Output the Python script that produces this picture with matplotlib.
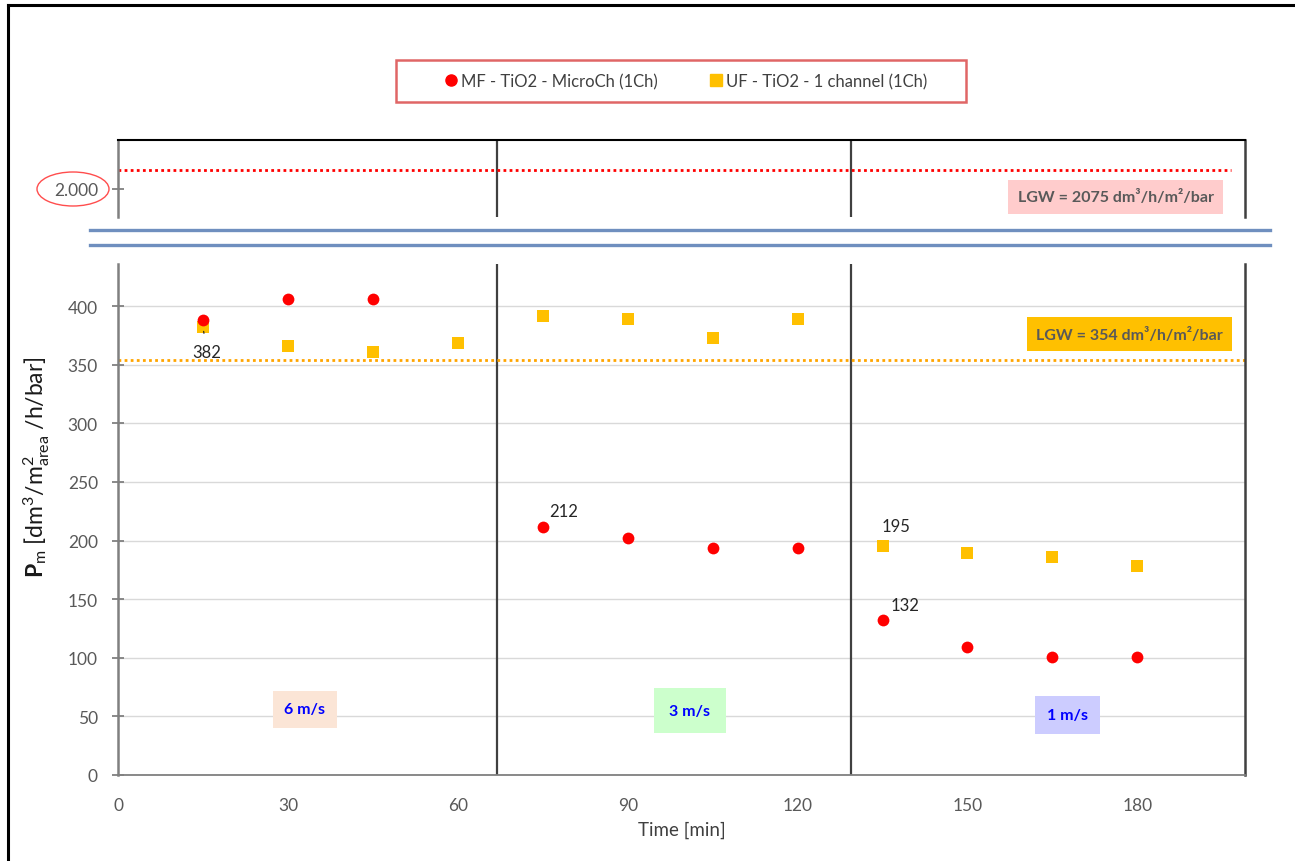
import matplotlib
matplotlib.use("Agg")
import matplotlib.pyplot as plt
from matplotlib.lines import Line2D
from matplotlib.patches import Ellipse, Rectangle

plt.rcParams["font.family"] = ["Lato", "DejaVu Sans"]
plt.rcParams["mathtext.fontset"] = "custom"
plt.rcParams["mathtext.rm"] = "Lato"
plt.rcParams["mathtext.bf"] = "Lato:bold"
plt.rcParams["mathtext.it"] = "Lato:italic"

# permeability Pm [dm3/m2/h/bar] vs time [min]
time_mf = [15, 30, 45, 75, 90, 105, 120, 135, 150, 165, 180]
pm_mf = [388, 406, 406, 212, 202, 194, 194, 132, 109, 101, 101]
time_uf = [15, 30, 45, 60, 75, 90, 105, 120, 135, 150, 165, 180]
pm_uf = [382, 366, 361, 369, 392, 389, 373, 389, 195, 189, 186, 178]

label_mf = "MF - TiO2 - MicroCh (1Ch)"
label_uf = "UF - TiO2 - 1 channel (1Ch)"

# clean water permeability (LGW) of each membrane
lgw_mf = 2075
lgw_uf = 354

# end of each cross-flow velocity phase [min]
phase_ends = [67, 129.5]
speeds = ["6 m/s", "3 m/s", "1 m/s"]
speed_x = [33, 101, 167.6]
speed_y = [56, 55, 51]
speed_colors = ["#fbe5d6", "#ccffcc", "#ccccff"]
speed_pads = [0.7, 0.95, 0.75]

# points with a value label: (index, text offset in points)
mf_labels = [(3, (15, 11)), (7, (16, 11))]
uf_labels = [(8, (10, 15))]

xticks = [0, 30, 60, 90, 120, 150, 180]
yticks = [0, 50, 100, 150, 200, 250, 300, 350, 400]

W, H = 1295, 862
def fx(px):
    return px / W
def fy(py):
    return 1 - py / H

fig = plt.figure(figsize=(W / 100, H / 100), dpi=100)
fig.patch.set_facecolor("white")

tick_col = "#595959"
xmax = 199

# lower (main) axes
ax = fig.add_axes([fx(118), fy(776), fx(1245) - fx(118), fy(265) - fy(776)])
ax.set_xlim(0, xmax)
ax.set_ylim(0, 436)
ax.set_yticks(yticks)
ax.set_xticks(xticks)
ax.grid(axis="y", color="#d9d9d9", lw=1)
ax.set_axisbelow(True)
ax.spines["top"].set_visible(False)
ax.spines["left"].set_color("#808080")
ax.spines["left"].set_linewidth(1.8)
ax.spines["bottom"].set_color("#808080")
ax.spines["bottom"].set_linewidth(1.3)
ax.spines["right"].set_color("#404040")
ax.spines["right"].set_linewidth(1.8)
ax.tick_params(axis="y", direction="inout", length=9, width=1.3, color="#808080",
               labelsize=12.5, labelcolor=tick_col, pad=10)
ax.tick_params(axis="x", length=0, labelsize=12.5, labelcolor=tick_col, pad=16)
ax.set_xlabel("Time [min]", fontsize=13.5, color="#404040", labelpad=5)

for xe in phase_ends:
    ax.axvline(xe, color="#404040", lw=1.6)

ax.axhline(lgw_uf, color="#ffa500", lw=2, linestyle=(0, (1, 1.2)))

ax.scatter(time_mf, pm_mf, s=72, marker="o", color="#ff0000", zorder=4, linewidths=0)
ax.scatter(time_uf, pm_uf, s=85, marker="s", color="#ffc000", zorder=3, linewidths=0)

for i, off in mf_labels:
    ax.annotate(str(pm_mf[i]), (time_mf[i], pm_mf[i]), xytext=off,
                textcoords="offset points", ha="center", va="center",
                fontsize=12, color="#262626")
for i, off in uf_labels:
    ax.annotate(str(pm_uf[i]), (time_uf[i], pm_uf[i]), xytext=off,
                textcoords="offset points", ha="center", va="center",
                fontsize=12, color="#262626")
# first UF point labelled below with a leader line
ax.annotate(str(pm_uf[0]), (time_uf[0], pm_uf[0]), xytext=(3, -18),
            textcoords="offset points", ha="center", va="center",
            fontsize=12, color="#262626",
            arrowprops=dict(arrowstyle="-", color="#262626", lw=0.9,
                            shrinkA=6, shrinkB=3))

for s, x, y, c, p in zip(speeds, speed_x, speed_y, speed_colors, speed_pads):
    ax.text(x, y, s, ha="center", va="center", fontsize=11.5, fontweight="bold",
            color="#0000ff", bbox=dict(boxstyle=f"square,pad={p}", fc=c, ec="none"))

ax.text(178.6, 376, f"LGW = {lgw_uf} dm³/h/m²/bar", ha="center", va="center",
        fontsize=11.5, fontweight="bold", color="#595959",
        bbox=dict(boxstyle="square,pad=0.6", fc="#ffc000", ec="none"))

# upper axes for the MF clean water value
axt = fig.add_axes([fx(118), fy(218), fx(1245) - fx(118), fy(141) - fy(218)])
axt.set_xlim(0, xmax)
axt.set_ylim(1889, 2193)
axt.set_xticks([])
axt.set_yticks([2000])
axt.set_yticklabels(["2.000"])
axt.spines["bottom"].set_visible(False)
axt.spines["top"].set_color("black")
axt.spines["top"].set_linewidth(1.5)
axt.spines["left"].set_color("#808080")
axt.spines["left"].set_linewidth(1.8)
axt.spines["right"].set_color("#404040")
axt.spines["right"].set_linewidth(1.8)
axt.tick_params(axis="y", direction="inout", length=9, width=1.3, color="#808080",
                labelsize=12.5, labelcolor=tick_col, pad=10)
for xe in phase_ends:
    axt.axvline(xe, color="#404040", lw=1.6)
axt.axhline(lgw_mf, xmax=0.988, color="#ff0000", lw=2, linestyle=(0, (1, 1.2)))
axt.text(176.2, 1968, f"LGW = {lgw_mf} dm³/h/m²/bar", ha="center", va="center",
         fontsize=11.5, fontweight="bold", color="#595959",
         bbox=dict(boxstyle="square,pad=0.6", fc="#ffcccc", ec="none"))

# axis break marks
for py in [231, 246]:
    fig.add_artist(Line2D([fx(90), fx(1270)], [fy(py), fy(py)], color="#6f8fbf", lw=2.4))

fig.add_artist(Ellipse((fx(73), fy(190)), fx(72), 34 / H, fill=False,
                       edgecolor="#ff4d4d", lw=1))

fig.text(fx(37), fy(467), r"$\mathbf{P}_{\mathrm{m}}$ [dm$^3$/m$^2_{\mathrm{area}}$ /h/bar]",
         rotation=90, ha="center", va="center", fontsize=16.5, color="#1a1a1a")

# legend with its own frame
fig.add_artist(Rectangle((fx(396), fy(103)), fx(966) - fx(396), fy(61) - fy(103),
                         fill=False, edgecolor="#e06666", lw=1.8))
handles = [Line2D([], [], marker="o", color="#ff0000", ls="none", markersize=8),
           Line2D([], [], marker="s", color="#ffc000", ls="none", markersize=8)]
fig.legend(handles, [label_mf, label_uf], loc="center", bbox_to_anchor=(fx(685), fy(82)),
           ncol=2, frameon=False, fontsize=12, handletextpad=0.1, columnspacing=3.0,
           handlelength=1.0, labelcolor="#404040")

# outer frame
fig.add_artist(Line2D([fx(8), 1], [fy(6), fy(6)], color="black", lw=2.2))
fig.add_artist(Line2D([fx(8), fx(8)], [0, fy(6)], color="black", lw=2.2))

fig.savefig("out.png", dpi=100)
